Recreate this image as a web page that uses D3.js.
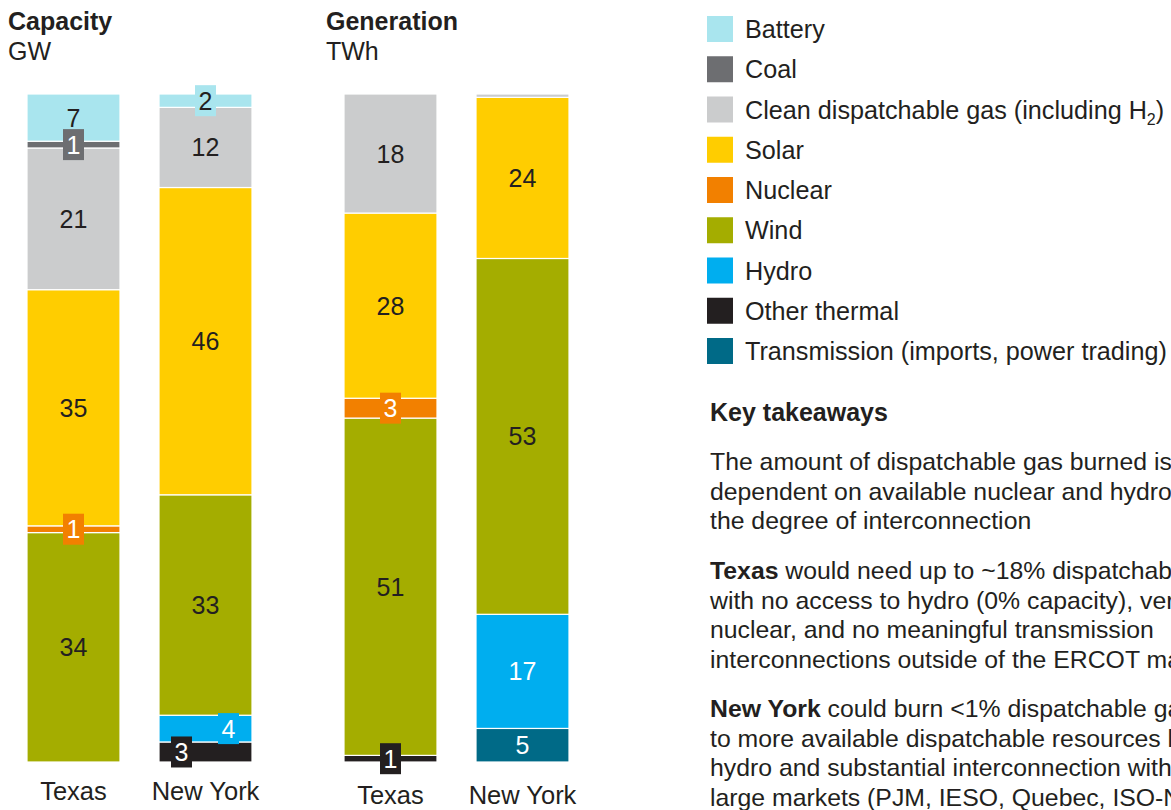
<html>
<head>
<meta charset="utf-8">
<script src="https://cdnjs.cloudflare.com/ajax/libs/d3/7.8.5/d3.min.js"></script>
<style>
  body { margin: 0; background: #fff; }
  svg { display: block; font-family: "Liberation Sans", Arial, sans-serif; }
</style>
</head>
<body>
<div id="chartContainer"></div>
<script>
  // Categories, from top of each stacked bar to its bottom
  var categories = ["Battery", "Coal", "Clean dispatchable gas", "Solar", "Nuclear",
                    "Wind", "Hydro", "Other thermal", "Transmission"];
  var legendLabels = ["Battery", "Coal", "Clean dispatchable gas (including H", "Solar", "Nuclear",
                      "Wind", "Hydro", "Other thermal", "Transmission (imports, power trading)"];
  var colors = ["#a9e5ee", "#6d6e71", "#cbcccd", "#ffcd00", "#f28000",
                "#a4ad00", "#00aeef", "#231f20", "#006a87"];
  var regions = ["Texas", "New York"];

  // Share of each category, %
  var capacityTexas      = [7, 1, 21, 35, 1, 34, 0, 0, 0];
  var capacityNewYork    = [2, 0, 12, 46, 0, 33, 4, 3, 0];
  var generationTexas    = [0, 0, 18, 28, 3, 51, 0, 1, 0];
  var generationNewYork  = [0, 0, 0.5, 24, 0, 53, 17, 0, 5];

  var W = 1171, H = 810;
  var ink = "#231f20";
  var fs = "25px";
  var darkFills = ["Coal", "Nuclear", "Hydro", "Other thermal", "Transmission"];

  var svg = d3.select("#chartContainer").append("svg")
      .attr("width", W).attr("height", H);

  var panels = [
    { title: "Capacity", unit: "GW", titleX: 8, x0: 27, x1: 252, labelPad: 20,
      series: [capacityTexas, capacityNewYork] },
    { title: "Generation", unit: "TWh", titleX: 326, x0: 344, x1: 569, labelPad: 24,
      series: [generationTexas, generationNewYork] }
  ];

  // small badges that would collide get nudged sideways
  var badgeShift = { "Capacity|New York|Hydro": 23, "Capacity|New York|Other thermal": -24 };

  var y = d3.scaleLinear().domain([0, 1]).range([762, 94]);

  panels.forEach(function (p) {
    var g = svg.append("g");

    g.append("text").attr("x", p.titleX).attr("y", 30)
      .style("font-size", fs).style("font-weight", "bold").style("fill", ink)
      .text(p.title);
    g.append("text").attr("x", p.titleX).attr("y", 60)
      .style("font-size", fs).style("fill", ink)
      .text(p.unit);

    var rows = regions.map(function (r, i) {
      var row = { region: r };
      categories.forEach(function (c, j) { row[c] = p.series[i][j]; });
      return row;
    });

    var x = d3.scaleBand().domain(regions).range([p.x0, p.x1])
      .paddingInner(0.2955).paddingOuter(0);

    // bottom-up order for the stack
    var stack = d3.stack().keys(categories.slice().reverse())
      .offset(d3.stackOffsetExpand);
    var stacked = stack(rows);

    var layer = g.selectAll(".layer").data(stacked).enter().append("g")
      .attr("fill", function (s) { return colors[categories.indexOf(s.key)]; });

    layer.selectAll("rect")
      .data(function (s) { return s.filter(function (d) { return d[1] - d[0] > 0; }); })
      .enter().append("rect")
        .attr("x", function (d) { return x(d.data.region); })
        .attr("y", function (d) { return y(d[1]); })
        .attr("width", x.bandwidth())
        .attr("height", function (d) { return y(d[0]) - y(d[1]); })
        .style("stroke", "#fff")
        .style("stroke-width", 1.2);

    // value labels
    var labels = [];
    stacked.forEach(function (s) {
      s.forEach(function (d) {
        var v = d.data[s.key];
        if (v < 1) return;
        labels.push({
          key: s.key, value: v,
          cx: x(d.data.region) + x.bandwidth() / 2 + (badgeShift[p.title + "|" + d.data.region + "|" + s.key] || 0),
          cy: (y(d[0]) + y(d[1])) / 2
        });
      });
    });

    var lab = g.selectAll(".lab").data(labels).enter().append("g");
    lab.filter(function (d) { return d.value < 5; })
      .append("rect")
        .attr("x", function (d) { return d.cx - 10.5; })
        .attr("y", function (d) { return d.cy - 15.5; })
        .attr("width", 21).attr("height", 31)
        .attr("fill", function (d) { return colors[categories.indexOf(d.key)]; });
    lab.append("text")
      .attr("x", function (d) { return d.cx; })
      .attr("y", function (d) { return d.cy; })
      .attr("dy", "0.36em")
      .attr("text-anchor", "middle")
      .style("font-size", fs)
      .style("fill", function (d) { return darkFills.indexOf(d.key) >= 0 ? "#fff" : ink; })
      .text(function (d) { return d3.format("d")(d.value); });

    // region names under the bars
    var axis = g.append("g").attr("transform", "translate(0,762)")
      .call(d3.axisBottom(x).tickSize(0).tickPadding(p.labelPad));
    axis.select(".domain").remove();
    axis.selectAll("text").style("font-size", "25.5px").style("fill", ink)
      .style("font-family", "\"Liberation Sans\", Arial, sans-serif");
  });

  // Legend
  var legend = svg.append("g").attr("transform", "translate(707,16)");
  var item = legend.selectAll(".item").data(legendLabels).enter().append("g")
    .attr("transform", function (d, i) { return "translate(0," + (i * 40.25) + ")"; });
  item.append("rect").attr("width", 26).attr("height", 26)
    .attr("fill", function (d, i) { return colors[i]; });
  var lt = item.append("text").attr("x", 38).attr("y", 13).attr("dy", "0.36em")
    .style("font-size", "25.2px").style("fill", ink);
  lt.append("tspan").text(function (d) { return d; });
  lt.filter(function (d, i) { return i === 2; }).each(function () {
    var t = d3.select(this);
    t.append("tspan").attr("dy", 6).style("font-size", "16px").text("2");
    t.append("tspan").attr("dy", -6).text(")");
  });

  // Key takeaways
  var notes = svg.append("g").attr("transform", "translate(710,0)");
  notes.append("text").attr("y", 421)
    .style("font-size", fs).style("font-weight", "bold").style("fill", ink)
    .text("Key takeaways");

  var paragraphs = [
    { top: 470, lead: "", lines: ["The amount of dispatchable gas burned is highly",
                                  "dependent on available nuclear and hydro and",
                                  "the degree of interconnection"] },
    { top: 579, lead: "Texas", lines: [" would need up to ~18% dispatchable gas",
                                       "with no access to hydro (0% capacity), very little",
                                       "nuclear, and no meaningful transmission",
                                       "interconnections outside of the ERCOT market"] },
    { top: 717, lead: "New York", lines: [" could burn <1% dispatchable gas due",
                                          "to more available dispatchable resources like",
                                          "hydro and substantial interconnection with",
                                          "large markets (PJM, IESO, Quebec, ISO-NE)"] }
  ];
  paragraphs.forEach(function (para) {
    para.lines.forEach(function (line, i) {
      var t = notes.append("text").attr("y", para.top + i * 29.5)
        .style("font-size", "24.8px").style("fill", ink);
      if (i === 0 && para.lead) {
        t.append("tspan").style("font-weight", "bold").text(para.lead);
      }
      t.append("tspan").text(line);
    });
  });
</script>
</body>
</html>
